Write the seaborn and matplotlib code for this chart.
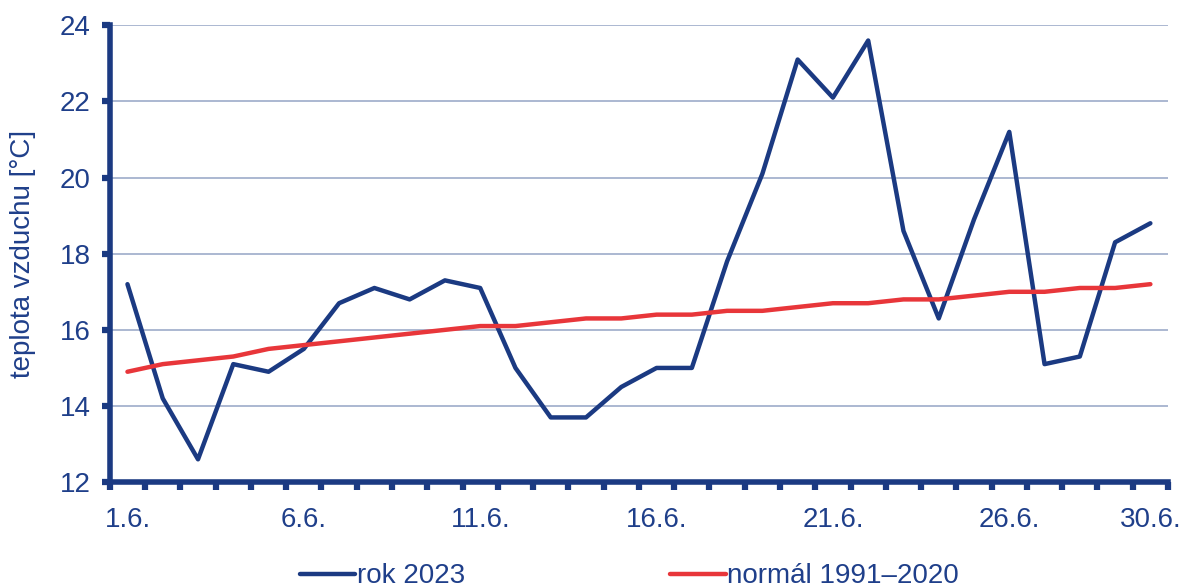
import pandas as pd
import matplotlib
matplotlib.use("Agg")
import matplotlib.pyplot as plt
import seaborn as sns

# Daily mean air temperature, June
days = list(range(1, 31))
rok_2023 = [17.2, 14.2, 12.6, 15.1, 14.9, 15.5, 16.7, 17.1, 16.8, 17.3,
            17.1, 15.0, 13.7, 13.7, 14.5, 15.0, 15.0, 17.8, 20.1, 23.1,
            22.1, 23.6, 18.6, 16.3, 18.9, 21.2, 15.1, 15.3, 18.3, 18.8]
normal = [14.9, 15.1, 15.2, 15.3, 15.5, 15.6, 15.7, 15.8, 15.9, 16.0,
          16.1, 16.1, 16.2, 16.3, 16.3, 16.4, 16.4, 16.5, 16.5, 16.6,
          16.7, 16.7, 16.8, 16.8, 16.9, 17.0, 17.0, 17.1, 17.1, 17.2]
series_names = ["rok 2023", "normál 1991–2020"]
tick_days = [1, 6, 11, 16, 21, 26, 30]
y_ticks = [12, 14, 16, 18, 20, 22, 24]

BLUE = "#1B3A82"
RED = "#E8363A"
GRID = "#9DABC9"
TEXT = "#1F3F8A"

df = pd.DataFrame({
    "den": days * 2,
    "teplota": rok_2023 + normal,
    "rada": [series_names[0]] * len(days) + [series_names[1]] * len(days),
})

sns.set_style("white")
plt.rcParams["font.family"] = ["Liberation Sans", "DejaVu Sans"]

fig = plt.figure(figsize=(11.81, 5.88), dpi=100)
ax = fig.add_axes([0.093, 0.180, 0.896, 0.777])

sns.lineplot(data=df, x="den", y="teplota", hue="rada",
             palette=[BLUE, RED], linewidth=3.2, ax=ax, legend=False)

ax.set_xlim(0.5, 30.5)
ax.set_ylim(12, 24)
ax.set_yticks(y_ticks)
ax.yaxis.grid(True, color=GRID, linewidth=1.2)
ax.set_axisbelow(True)

# major ticks at the day boundaries, labels at the day centres
ax.set_xticks([d + 0.5 for d in range(0, 31)])
ax.set_xticklabels([])
ax.set_xticks(tick_days, minor=True)
ax.set_xticklabels([f"{d}.6." for d in tick_days], minor=True)
ax.tick_params(axis="x", which="major", bottom=True, direction="out",
               length=6, width=4.5, color=BLUE)
ax.tick_params(axis="x", which="minor", bottom=True, length=0, pad=18,
               labelsize=20, labelcolor=TEXT)
ax.tick_params(axis="y", left=True, direction="out", length=6, width=4.5,
               color=BLUE, labelsize=20, labelcolor=TEXT, pad=8)

for side in ["top", "right"]:
    ax.spines[side].set_visible(False)
for side in ["left", "bottom"]:
    ax.spines[side].set_color(BLUE)
    ax.spines[side].set_linewidth(4)

ax.set_xlabel("")
ax.set_ylabel("teplota vzduchu [°C]", fontsize=20, color=TEXT, labelpad=17)

handles = [plt.Line2D([], [], color=BLUE, linewidth=3.2),
           plt.Line2D([], [], color=RED, linewidth=3.2)]
fig.legend(handles, series_names, loc="lower center",
           bbox_to_anchor=(0.533, -0.045), ncol=2, frameon=False,
           fontsize=20, labelcolor=TEXT, handlelength=2.0,
           handletextpad=0.05, columnspacing=7.4)

fig.savefig("out.png", dpi=100)
